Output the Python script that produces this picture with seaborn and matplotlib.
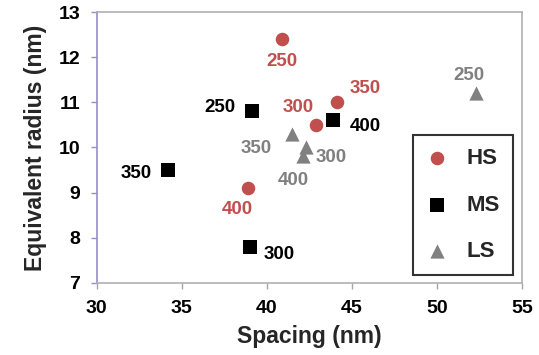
import matplotlib
matplotlib.use("Agg")
import matplotlib.pyplot as plt
import seaborn as sns
import pandas as pd

# Data
groups = ["HS", "MS", "LS"]
hs_spacing = [40.9, 44.1, 42.9, 38.9]
hs_radius = [12.4, 11.0, 10.5, 9.1]
hs_labels = ["250", "350", "300", "400"]
ms_spacing = [39.15, 43.9, 34.2, 39.0]
ms_radius = [10.8, 10.6, 9.5, 7.8]
ms_labels = ["250", "400", "350", "300"]
ls_spacing = [52.3, 41.5, 42.3, 42.1]
ls_radius = [11.2, 10.3, 10.0, 9.8]
ls_labels = ["250", "350", "300", "400"]
x_ticks = [30, 35, 40, 45, 50, 55]
y_ticks = [7, 8, 9, 10, 11, 12, 13]

df = pd.DataFrame({
    "spacing": hs_spacing + ms_spacing + ls_spacing,
    "radius": hs_radius + ms_radius + ls_radius,
    "label": hs_labels + ms_labels + ls_labels,
    "group": ["HS"] * 4 + ["MS"] * 4 + ["LS"] * 4,
})

sns.set_theme(style="white")
plt.rcParams["font.family"] = ["Liberation Sans", "DejaVu Sans"]
plt.rcParams["font.weight"] = "bold"

colors = {"HS": "#c0504d", "MS": "#000000", "LS": "#808080"}
markers = {"HS": "o", "MS": "s", "LS": "^"}
sizes = {"HS": 95, "MS": 110, "LS": 105}

fig = plt.figure(figsize=(5.39, 3.55), dpi=100)
ax = fig.add_axes([0.1794, 0.2037, 0.9685 - 0.1794, 0.9654 - 0.2037])

for g in groups:
    sub = df[df["group"] == g]
    sns.scatterplot(data=sub, x="spacing", y="radius", ax=ax, color=colors[g],
                    marker=markers[g], s=sizes[g], linewidth=0, label=g)

# label offsets in pixels (dx, dy with y up)
offsets = {
    ("HS", "250"): (0, -22), ("HS", "350"): (29, 14), ("HS", "300"): (-18, 17),
    ("HS", "400"): (-11, -21),
    ("MS", "250"): (-32, 4), ("MS", "400"): (32, -6), ("MS", "350"): (-32, -3),
    ("MS", "300"): (29, -8),
    ("LS", "250"): (-7, 18), ("LS", "350"): (-36, -15), ("LS", "300"): (25, -10),
    ("LS", "400"): (-9, -24),
}
for _, r in df.iterrows():
    dx, dy = offsets[(r["group"], r["label"])]
    ax.annotate(r["label"], (r["spacing"], r["radius"]),
                xytext=(dx * 0.72, dy * 0.72), textcoords="offset points",
                ha="center", va="center", fontsize=13.5, fontweight="bold",
                color=colors[r["group"]])

ax.set_xlim(30, 55)
ax.set_ylim(7, 13)
ax.set_xticks(x_ticks)
ax.set_yticks(y_ticks)
ax.set_xlabel("Spacing (nm)", fontsize=16.5, fontweight="bold", labelpad=6)
ax.set_ylabel("Equivalent radius (nm)", fontsize=16.5, fontweight="bold", labelpad=8)
for lab in ax.get_xticklabels() + ax.get_yticklabels():
    lab.set_fontweight("bold")
ax.tick_params(axis="both", labelsize=14, length=4, width=1, direction="out",
               bottom=True, left=True)
ax.tick_params(axis="y", colors="#9a8cc8", labelcolor="black", pad=8)
ax.tick_params(axis="x", colors="#a6a6a6", labelcolor="black", pad=8.5)

ax.spines["left"].set_color("#9a8cc8")
for s in ["top", "right", "bottom"]:
    ax.spines[s].set_color("#b0b0b0")
for s in ax.spines.values():
    s.set_linewidth(1.2)

leg = ax.legend(loc="upper left", bbox_to_anchor=((413 - 96.7) / 425.3, 1 - (135 - 12.3) / 270.4),
                frameon=True, fancybox=False, edgecolor="black", fontsize=16,
                labelspacing=1.14, handletextpad=0.8, borderpad=0.6,
                handlelength=1.0, borderaxespad=0, markerscale=1.0)
leg.get_frame().set_linewidth(1.5)
for t in leg.get_texts():
    t.set_fontweight("bold")

fig.savefig("out.png", dpi=100)
